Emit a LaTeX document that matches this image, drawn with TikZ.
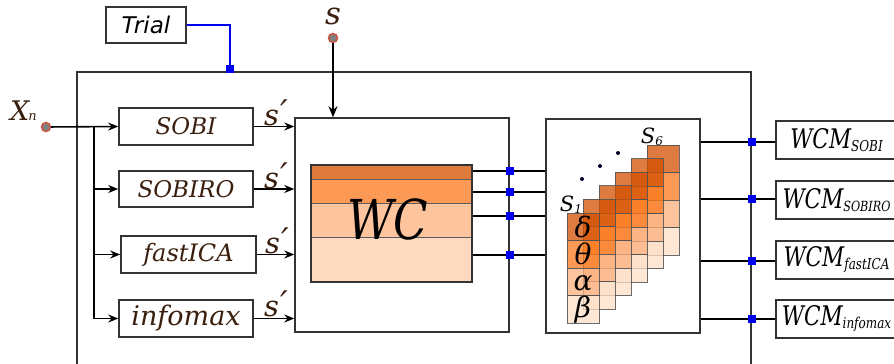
\documentclass[tikz,border=0pt]{standalone}
\usepackage{fontspec}
\setmainfont{DejaVu Serif}
\newfontfamily\trialfont{DejaVu Sans}
\usetikzlibrary{arrows.meta}
\definecolor{txt}{HTML}{3A1E0E}
\definecolor{edge}{HTML}{333333}
\definecolor{bsq}{HTML}{0000EE}
\definecolor{wa}{HTML}{DE7B3C}
\definecolor{wb}{HTML}{FC9A55}
\definecolor{wc}{HTML}{FDC49D}
\definecolor{wd}{HTML}{FDD9C0}
\definecolor{sa}{HTML}{D34F00}
\definecolor{sb}{HTML}{FB781C}
\definecolor{sc}{HTML}{FCB07C}
\definecolor{sd}{HTML}{FEDFC8}
\definecolor{dotred}{HTML}{D0503A}
\newcommand{\sprime}{s\kern1pt\raisebox{1pt}{\fontsize{34}{34}\selectfont ′}}
\begin{document}
\begin{tikzpicture}[x=1pt,y=-1pt,
  algbox/.style={draw=edge,line width=1.6pt,inner sep=0pt,font=\fontsize{23}{23}\selectfont\itshape,text=txt},
  bigbox/.style={draw=edge,line width=1.5pt,inner sep=0pt},
  arr/.style={line width=1.6pt,-{Stealth[length=10pt,width=8pt]}},
  wire/.style={line width=1.6pt},
  thick wire/.style={line width=2.6pt},
  bsqr/.style={fill=bsq,minimum size=8.5pt,inner sep=0pt},
  port/.style={circle,fill=gray,draw=dotred,line width=1.4pt,minimum size=9pt,inner sep=0pt},
  lbl/.style={text=txt,font=\fontsize{29}{29}\selectfont\itshape,inner sep=0pt},
  wcm/.style={draw=edge,line width=1.6pt,inner sep=0pt,minimum width=121pt,minimum height=38pt,text=black},
  greek/.style={font=\fontsize{28}{28}\selectfont\itshape,text=black,inner sep=0pt},
  cell/.style={draw=edge!85,line width=1pt,fill opacity=0.75,draw opacity=0.85}
]
\useasboundingbox (0,0) rectangle (894,364);
\clip (0,0) rectangle (894,364);
\fill[white] (0,0) rectangle (894,364);

% outer frame
\draw[edge,line width=1.5pt] (77,72) rectangle (751,380);

% Trial
\node[draw=edge,line width=1.5pt,minimum width=80pt,minimum height=36pt,inner sep=0pt,font=\trialfont\fontsize{23}{23}\selectfont\itshape] (trial) at (146,25) {Trial};
\node[bsqr] (tsq) at (230,69) {};
\draw[bsq,line width=1.3pt] (trial.east) -| (tsq.north);

% input x_n
\node[port] (xn) at (46,127) {};
\node[lbl,anchor=base west,font=\fontsize{27}{27}\selectfont\itshape] (xnl) at (10,120) {X\kern-1pt\raisebox{0pt}{\fontsize{13}{13}\selectfont n}};

% algorithm boxes
\node[algbox,minimum width=134pt,minimum height=37pt] (sobi) at (186,126.5) {SOBI};
\node[algbox,minimum width=134pt,minimum height=36pt] (sobiro) at (186,189) {SOBIRO};
\node[algbox,minimum width=135pt,minimum height=37pt,font=\fontsize{24}{24}\selectfont\itshape] (fica) at (188.5,254.5) {fastICA};
\node[algbox,minimum width=134pt,minimum height=37pt,font=\fontsize{27}{27}\selectfont\itshape] (infomax) at (186,318.5) {infomax};

\coordinate (br) at (94,127);
\draw[arr] (xn) -- (sobi.west);
\draw[wire] (br) -- (94,318.5);
\draw[arr] (br) |- (sobiro.west);
\draw[arr] (br) |- (fica.west);
\draw[arr] (br) |- (infomax.west);

% WC box
\node[bigbox,minimum width=214pt,minimum height=214pt] (wcbox) at (402,225) {};

\draw[arr] (sobi.east) -- (sobi.east -| wcbox.west);
\draw[arr] (sobiro.east) -- (sobiro.east -| wcbox.west);
\draw[arr] (fica.east) -- (fica.east -| wcbox.west);
\draw[arr] (infomax.east) -- (infomax.east -| wcbox.west);

\node[lbl] (sp1) at (276,113) {\sprime};
\node[lbl] (sp2) at (276,176) {\sprime};
\node[lbl] (sp3) at (277,241) {\sprime};
\node[lbl] (sp4) at (276,304) {\sprime};

% S input
\node[port] (sin) at (333,38) {};
\node[lbl,font=\fontsize{31}{31}\selectfont\itshape] (sinl) at (333,16) {s};
\draw[line width=1.8pt,-{Stealth[length=11pt,width=9pt]}] (sin) -- (sin |- wcbox.north);

% WC inner stack
\fill[wa] (311,165) rectangle (472,179);
\fill[wb] (311,179) rectangle (472,203);
\fill[wc] (311,203) rectangle (472,237);
\fill[wd] (311,237) rectangle (472,282);
\draw[edge!80,line width=0.8pt] (311,179) -- (472,179) (311,203) -- (472,203) (311,237) -- (472,237);
\node[draw=edge,line width=1.8pt,minimum width=161pt,minimum height=117pt,inner sep=0pt] (wcin) at (391.5,223.5) {};
\node[text=black,inner sep=0pt] (wclbl) at (388,219) {\scalebox{0.82}[1]{\fontsize{55}{55}\selectfont\itshape WC}};

% S box
\node[bigbox,minimum width=154pt,minimum height=214pt] (sbox) at (623,226) {};

% wires WC -> S box
\foreach \yy [count=\i] in {171,192,216,255}{
  \node[bsqr] (q\i) at (510,\yy) {};
  \draw[wire] (wcin.east |- q\i) -- (q\i);
  \draw[thick wire] (q\i) -- (q\i -| sbox.west);
}

% slices
\foreach \k in {5,4,3,2,1,0}{
  \pgfmathsetmacro{\xa}{567+16*\k}
  \pgfmathsetmacro{\ya}{213-13.6*\k}
  \begin{scope}[shift={(\xa,\ya)}]
    \draw[cell,fill=sa] (0,0) rectangle (32,27.5);
    \draw[cell,fill=sb] (0,27.5) rectangle (32,55);
    \draw[cell,fill=sc] (0,55) rectangle (32,82.5);
    \draw[cell,fill=sd] (0,82.5) rectangle (32,110);
  \end{scope}
}
\node[greek] (gd) at (583,227) {δ};
\node[greek] (gt) at (583,254) {θ};
\node[greek] (ga) at (583,283) {α};
\node[greek] (gb) at (583,310) {β};
\node[font=\fontsize{21}{21}\selectfont\itshape,text=black,inner sep=0pt] (s1l) at (571,205) {S\raisebox{-2pt}{\fontsize{12}{12}\selectfont 1}};
\node[font=\fontsize{21}{21}\selectfont\itshape,text=black,inner sep=0pt] (s6l) at (652,137) {S\raisebox{-2pt}{\fontsize{12}{12}\selectfont 6}};
\fill[black!85!blue] (582,179) circle (2pt) (600,166) circle (2pt) (618,153) circle (2pt);

% WCM outputs
\node[wcm] (m1) at (836.5,140) {\scalebox{0.8}[1]{\fontsize{27}{27}\selectfont\itshape WCM\raisebox{-3pt}{\fontsize{15}{15}\selectfont SOBI}}};
\node[wcm] (m2) at (836.5,200) {\scalebox{0.8}[1]{\fontsize{27}{27}\selectfont\itshape WCM\raisebox{-3pt}{\fontsize{14}{14}\selectfont SOBIRO}}};
\node[wcm] (m3) at (836.5,260) {\scalebox{0.8}[1]{\fontsize{27}{27}\selectfont\itshape WCM\raisebox{-3pt}{\fontsize{15}{15}\selectfont fastICA}}};
\node[wcm] (m4) at (836.5,319) {\scalebox{0.8}[1]{\fontsize{27}{27}\selectfont\itshape WCM\raisebox{-3pt}{\fontsize{15}{15}\selectfont infomax}}};

\foreach \i/\yy in {1/142,2/199,3/261,4/319}{
  \node[bsqr] (r\i) at (752,\yy) {};
  \draw[wire] (sbox.east |- r\i) -- (r\i);
  \draw[thick wire] (r\i) -- (r\i -| m1.west);
}
\end{tikzpicture}
\end{document}
